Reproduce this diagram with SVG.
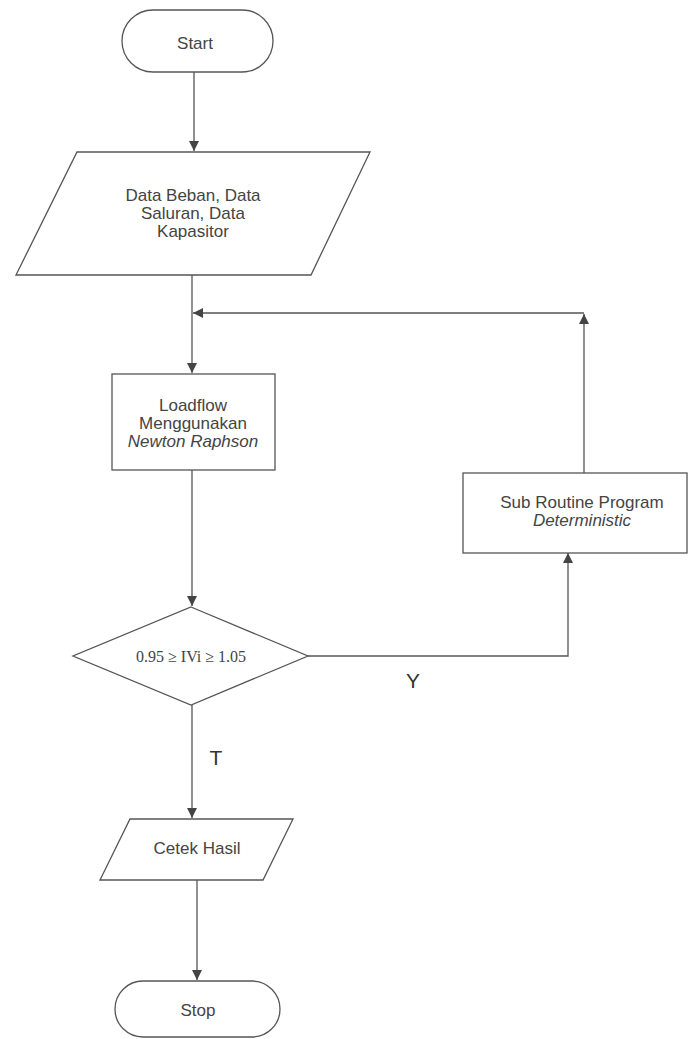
<svg xmlns="http://www.w3.org/2000/svg" width="699" height="1039" viewBox="0 0 699 1039">
<style>
.s{fill:#fff;stroke:#555;stroke-width:1.3}
.t{font-family:"Liberation Sans",Arial,sans-serif;font-size:17px;fill:#444;text-anchor:middle}
.i{font-style:italic}
.c{fill:none;stroke:#555;stroke-width:1.3}
.l{font-family:"Liberation Sans",Arial,sans-serif;font-size:21px;fill:#333;text-anchor:middle}
</style>
<defs>
<marker id="a" viewBox="0 0 10 10" refX="10" refY="5" markerWidth="10" markerHeight="10" markerUnits="userSpaceOnUse" orient="auto"><path d="M0,0 L10,5 L0,10 z" fill="#444"/></marker>
</defs>
<rect width="699" height="1039" fill="#fff"/>
<g id="connectors">
<path class="c" d="M194,72 V151" marker-end="url(#a)"/>
<path class="c" d="M192,275 V373" marker-end="url(#a)"/>
<path class="c" d="M584,473 V314" marker-end="url(#a)"/>
<path class="c" d="M584,313 H193" marker-end="url(#a)"/>
<path class="c" d="M308,656 H568 V553" marker-end="url(#a)"/>
<path class="c" d="M192,470 V606" marker-end="url(#a)"/>
<path class="c" d="M192,705 V818" marker-end="url(#a)"/>
<path class="c" d="M197,880 V980" marker-end="url(#a)"/>
<text class="l" x="413" y="688">Y</text>
<text class="l" x="216" y="765">T</text>
</g>
<g id="start">
<rect class="s" x="122" y="10" width="151" height="62" rx="31"/>
<text class="t" x="195" y="49">Start</text>
</g>
<g id="input">
<polygon class="s" points="77,152 370,152 311,275 16,275"/>
<text class="t" x="193" y="201">Data Beban, Data</text>
<text class="t" x="193" y="219">Saluran, Data</text>
<text class="t" x="193" y="237">Kapasitor</text>
</g>
<g id="loadflow">
<rect class="s" x="112" y="374" width="163" height="96"/>
<text class="t" x="193" y="411">Loadflow</text>
<text class="t" x="193" y="429">Menggunakan</text>
<text class="t i" x="193" y="447">Newton Raphson</text>
</g>
<g id="subroutine">
<rect class="s" x="463" y="473" width="224" height="80"/>
<text class="t" x="582" y="508">Sub Routine Program</text>
<text class="t i" x="582" y="526">Deterministic</text>
</g>
<g id="decision">
<polygon class="s" points="191,607 308,656 191,705 73,656"/>
<text x="191" y="662" style="font-family:'Liberation Serif','Times New Roman',serif;font-size:16px;fill:#444;text-anchor:middle">0.95 ≥ IVi ≥ 1.05</text>
</g>
<g id="output">
<polygon class="s" points="130,819 293,819 263,880 100,880"/>
<text class="t" x="197" y="854">Cetek Hasil</text>
</g>
<g id="stop">
<rect class="s" x="115" y="981" width="165" height="56" rx="28"/>
<text class="t" x="198" y="1016">Stop</text>
</g>
</svg>
